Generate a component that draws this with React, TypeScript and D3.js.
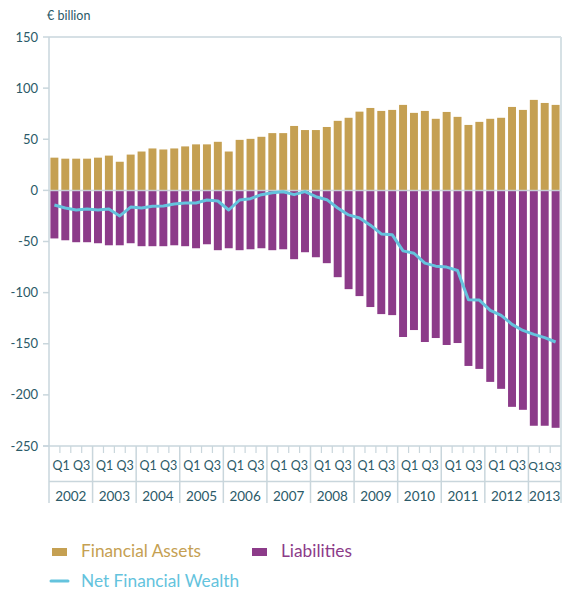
import * as d3 from 'd3';

const years = ['2002', '2003', '2004', '2005', '2006', '2007', '2008', '2009', '2010', '2011', '2012', '2013'];
const quartersPerYear = [4, 4, 4, 4, 4, 4, 4, 4, 4, 4, 4, 3];

const assets = [
  32, 31, 31, 31, 32, 34, 28, 35, 38, 41, 40, 41, 43, 45, 45, 47.5, 38, 49.4, 50.4, 52.4, 56, 56, 63,
  59, 59, 62, 68, 71, 77, 80.6, 77.7, 78.7, 83.6, 75.8, 77.7, 70, 76.7, 71.9, 64, 67, 70, 71, 81.6,
  78.7, 88.5, 85.5, 83.6,
];

const liabilities = [
  -47, -48.8, -50.7, -50.7, -51.7, -53.7, -53.7, -51.7, -54.6, -54.6, -54.6, -53.7, -54.6, -56.6, -52.7,
  -58.5, -56.6, -58.5, -57.6, -56.6, -58.5, -57.6, -67.3, -60.5, -65.4, -71.2, -84.9, -96.6, -103.4,
  -114.1, -121, -122, -143.4, -136.6, -148.3, -144.4, -151.2, -149.3, -171.7, -174.6, -187.3, -194.1,
  -211.7, -214.6, -230.2, -230.2, -232.2,
];

const netWealth = [
  -14.3, -17.2, -19.2, -18.2, -19.2, -18.2, -25, -16.3, -17.2, -15.6, -15.3, -13.3, -12.4, -12.4, -9.4,
  -10.4, -19.2, -9.4, -8.1, -4.2, -2.3, -1.3, -4.2, -1.2, -6.2, -9.1, -17.2, -24, -27, -34, -42.6,
  -43.3, -59.2, -61.5, -71.2, -74.1, -75, -78.4, -107, -107.3, -117.4, -122.3, -131, -137, -140.8,
  -144, -148.3,
];

const yTicks = [150, 100, 50, 0, -50, -100, -150, -200, -250];

const COLOR_ASSETS = '#c5a052';
const COLOR_LIAB = '#8c3b89';
const COLOR_NET = '#64c3dd';
const COLOR_TEXT = '#2b5a68';
const COLOR_AXIS = '#c9d6dc';
const FONT = 'Lato, sans-serif';

export default function App() {
  const width = 571;
  const height = 592;
  const left = 49;
  const right = 561;
  const top = 37;
  const bottom = 446;

  const idx = d3.range(assets.length);
  const x = d3.scaleBand<number>().domain(idx).range([left, right]).paddingInner(0.27).paddingOuter(0.13);
  const step = x.step();
  const y = d3.scaleLinear().domain([-250, 150]).range([bottom, top]);

  const line = d3
    .line<number>()
    .x((_, i) => (x(i) as number) + x.bandwidth() / 2)
    .y((d) => y(d));

  // first quarter index of each year
  const starts: number[] = [];
  let acc = 0;
  quartersPerYear.forEach((n) => {
    starts.push(acc);
    acc += n;
  });
  const xAt = (q: number) => left + q * step;

  return (
    <svg width={width} height={height} style={{ display: 'block', position: 'absolute', left: 0, top: 0 }}>
      <text x={47} y={20} fontFamily={FONT} fontSize={12.5} fill={COLOR_TEXT}>
        € billion
      </text>

      {/* frame */}
      <line x1={left} x2={right} y1={top} y2={top} stroke={COLOR_AXIS} strokeWidth={1.5} />
      <line x1={right} x2={right} y1={top} y2={503} stroke="#d6e1e5" strokeWidth={2} />
      <line x1={left} x2={left} y1={top} y2={503} stroke={COLOR_AXIS} strokeWidth={1.5} />

      {/* y ticks */}
      {yTicks.map((t) => (
        <g key={t}>
          <line x1={left - 6} x2={left} y1={y(t)} y2={y(t)} stroke={COLOR_AXIS} strokeWidth={1.5} />
          <text
            x={38}
            y={y(t)}
            dy="0.35em"
            textAnchor="end"
            fontFamily={FONT}
            fontSize={13}
            fill={COLOR_TEXT}
          >
            {t}
          </text>
        </g>
      ))}

      {/* bars */}
      {assets.map((v, i) => (
        <rect
          key={`a${i}`}
          x={x(i)}
          y={y(v)}
          width={x.bandwidth()}
          height={y(0) - y(v)}
          fill={COLOR_ASSETS}
        />
      ))}
      {liabilities.map((v, i) => (
        <rect
          key={`l${i}`}
          x={x(i)}
          y={y(0)}
          width={x.bandwidth()}
          height={y(v) - y(0)}
          fill={COLOR_LIAB}
        />
      ))}

      <line x1={left} x2={right} y1={y(0)} y2={y(0)} stroke={COLOR_AXIS} strokeWidth={1.5} opacity={0.9} />

      <path d={line(netWealth) ?? ''} fill="none" stroke={COLOR_NET} strokeWidth={3} strokeLinejoin="round" />

      {/* bottom axis */}
      <line x1={left - 6} x2={right} y1={bottom} y2={bottom} stroke={COLOR_AXIS} strokeWidth={1.5} />
      <line x1={left} x2={right} y1={481.5} y2={481.5} stroke={COLOR_AXIS} strokeWidth={1.5} />
      {years.map((yr, k) => {
        const s = starts[k];
        const n = quartersPerYear[k];
        const x0 = xAt(s);
        const x1 = xAt(s + n);
        return (
          <g key={yr}>
            {k > 0 && <line x1={x0} x2={x0} y1={bottom} y2={503} stroke={COLOR_AXIS} strokeWidth={1.5} />}
            {d3.range(1, n).map((q) => (
              <line
                key={q}
                x1={xAt(s + q)}
                x2={xAt(s + q)}
                y1={bottom}
                y2={bottom + 7}
                stroke={COLOR_AXIS}
                strokeWidth={1.2}
              />
            ))}
            <text
              x={(x0 + x1) / 2 + (n === 4 ? 0.5 : 0)}
              y={470}
              textAnchor="middle"
              fontFamily={FONT}
              fontSize={n === 4 ? 12.5 : 12}
              fill={COLOR_TEXT}
              style={{ whiteSpace: 'pre' }}
            >
              {n === 4 ? 'Q1 Q3' : 'Q1Q3'}
            </text>
            <text
              x={(x0 + x1) / 2}
              y={501}
              textAnchor="middle"
              fontFamily={FONT}
              fontSize={13.5}
              fill={COLOR_TEXT}
            >
              {yr}
            </text>
          </g>
        );
      })}

      {/* legend */}
      <rect x={52} y={548} width={15} height={8} fill={COLOR_ASSETS} />
      <text x={81} y={557} fontFamily={FONT} fontSize={17.3} fill={COLOR_ASSETS}>
        Financial Assets
      </text>
      <rect x={252} y={548} width={15} height={8} fill={COLOR_LIAB} />
      <text x={281} y={557} fontFamily={FONT} fontSize={17.3} fill={COLOR_LIAB}>
        Liabilities
      </text>
      <line x1={51} x2={68} y1={581} y2={581} stroke={COLOR_NET} strokeWidth={3} strokeLinecap="round" />
      <text x={81} y={587} fontFamily={FONT} fontSize={17.3} fill={COLOR_NET}>
        Net Financial Wealth
      </text>
    </svg>
  );
}
